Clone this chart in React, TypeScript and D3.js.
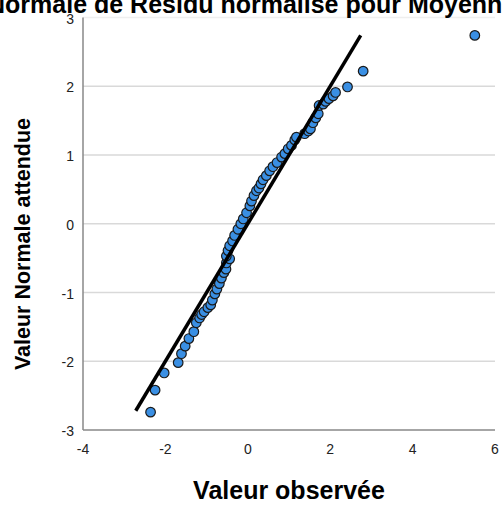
import React, { useEffect, useRef } from 'react';
import * as d3 from 'd3';

// observed values (x) and expected normal values (y)
const observed = [
  -2.36, -2.25, -2.03, -1.69, -1.61, -1.52, -1.43, -1.31, -1.25, -1.17, -1.12, -1.06, -0.97, -0.9,
  -0.86, -0.8, -0.75, -0.69, -0.64, -0.58, -0.53, -0.52, -0.44, -0.52, -0.48, -0.44, -0.37, -0.32,
  -0.24, -0.17, -0.11, -0.03, 0.05, 0.09, 0.15, 0.21, 0.27, 0.32, 0.37, 0.45, 0.53, 0.61, 0.71,
  0.82, 0.9, 0.98, 1.06, 1.14, 1.18, 1.38, 1.47, 1.52, 1.58, 1.65, 1.71, 1.73, 1.83, 1.89, 1.97,
  2.07, 2.13, 2.42, 2.8, 5.51,
];
const expected = [
  -2.74, -2.42, -2.17, -2.02, -1.89, -1.78, -1.67, -1.57, -1.44, -1.37, -1.32, -1.28, -1.22, -1.18,
  -1.11, -1.02, -0.95, -0.87, -0.79, -0.71, -0.66, -0.57, -0.51, -0.47, -0.39, -0.32, -0.25, -0.17,
  -0.08, 0.0, 0.07, 0.16, 0.26, 0.33, 0.41, 0.48, 0.52, 0.58, 0.64, 0.7, 0.77, 0.83, 0.89, 0.97,
  1.02, 1.09, 1.14, 1.22, 1.26, 1.31, 1.35, 1.38, 1.47, 1.54, 1.6, 1.72, 1.74, 1.78, 1.82, 1.86,
  1.91, 1.99, 2.22, 2.74,
];
const refLine = [-2.72, 2.74];
const xTicks = [-4, -2, 0, 2, 4, 6];
const yTicks = [-3, -2, -1, 0, 1, 2, 3];

const App = () => {
  const svgRef = useRef<SVGSVGElement>(null);

  useEffect(() => {
    const svg = d3.select(svgRef.current);
    svg.selectAll('*').remove();
    const font = 'Liberation Sans, Arial, sans-serif';

    const x = d3.scaleLinear().domain([-4, 6]).range([83, 495]);
    const y = d3.scaleLinear().domain([-3, 3]).range([430, 17.5]);

    svg.append('rect').attr('width', 502).attr('height', 506).attr('fill', '#fff');

    // gridlines
    svg
      .selectAll('.grid')
      .data(yTicks.filter(d => d > -3))
      .enter()
      .append('line')
      .attr('x1', x(-4))
      .attr('x2', x(6))
      .attr('y1', d => y(d))
      .attr('y2', d => y(d))
      .attr('stroke', d => (d === 3 ? '#efefef' : '#d9d9d9'))
      .attr('stroke-width', 1.5);

    // axis lines
    svg.append('line').attr('x1', x(-4)).attr('x2', x(-4)).attr('y1', y(3)).attr('y2', y(-3))
      .attr('stroke', '#888').attr('stroke-width', 1.5);
    svg.append('line').attr('x1', x(-4)).attr('x2', x(6)).attr('y1', y(-3)).attr('y2', y(-3))
      .attr('stroke', '#888').attr('stroke-width', 1.5);

    // tick labels
    svg
      .selectAll('.ytick')
      .data(yTicks)
      .enter()
      .append('text')
      .attr('x', 74)
      .attr('y', d => y(d) + 6)
      .attr('text-anchor', 'end')
      .style('font-family', font)
      .style('font-size', '14px')
      .attr('fill', '#222')
      .text(d => d);
    svg
      .selectAll('.xtick')
      .data(xTicks)
      .enter()
      .append('text')
      .attr('x', d => x(d))
      .attr('y', 454)
      .attr('text-anchor', 'middle')
      .style('font-family', font)
      .style('font-size', '14px')
      .attr('fill', '#222')
      .text(d => d);

    // points
    const pts = observed.map((v, i) => [v, expected[i]]);
    svg
      .selectAll('.pt')
      .data(pts)
      .enter()
      .append('circle')
      .attr('cx', d => x(d[0]))
      .attr('cy', d => y(d[1]))
      .attr('r', 4.8)
      .attr('fill', '#3a8fe3')
      .attr('stroke', '#1a1a1a')
      .attr('stroke-width', 1.2);

    // reference line
    svg.append('line')
      .attr('x1', x(refLine[0])).attr('y1', y(refLine[0]))
      .attr('x2', x(refLine[1])).attr('y2', y(refLine[1]))
      .attr('stroke', '#000').attr('stroke-width', 3.5);

    // title (clipped at the edges, as in the original)
    svg.append('text')
      .attr('x', -13)
      .attr('y', 13)
      .style('font-family', font)
      .style('font-size', '25px')
      .style('font-weight', 'bold')
      .text('Normale de Résidu normalisé pour Moyenne');

    // axis titles
    svg.append('text')
      .attr('x', 289)
      .attr('y', 499)
      .attr('text-anchor', 'middle')
      .style('font-family', font)
      .style('font-size', '25px')
      .style('font-weight', 'bold')
      .text('Valeur observée');
    svg.append('text')
      .attr('transform', 'translate(30,244) rotate(-90)')
      .attr('text-anchor', 'middle')
      .style('font-family', font)
      .style('font-size', '21.5px')
      .style('font-weight', 'bold')
      .text('Valeur Normale attendue');
  }, []);

  return (
    <svg ref={svgRef} width={502} height={506} style={{ position: 'absolute', left: 0, top: 0 }} />
  );
};

export default App;
